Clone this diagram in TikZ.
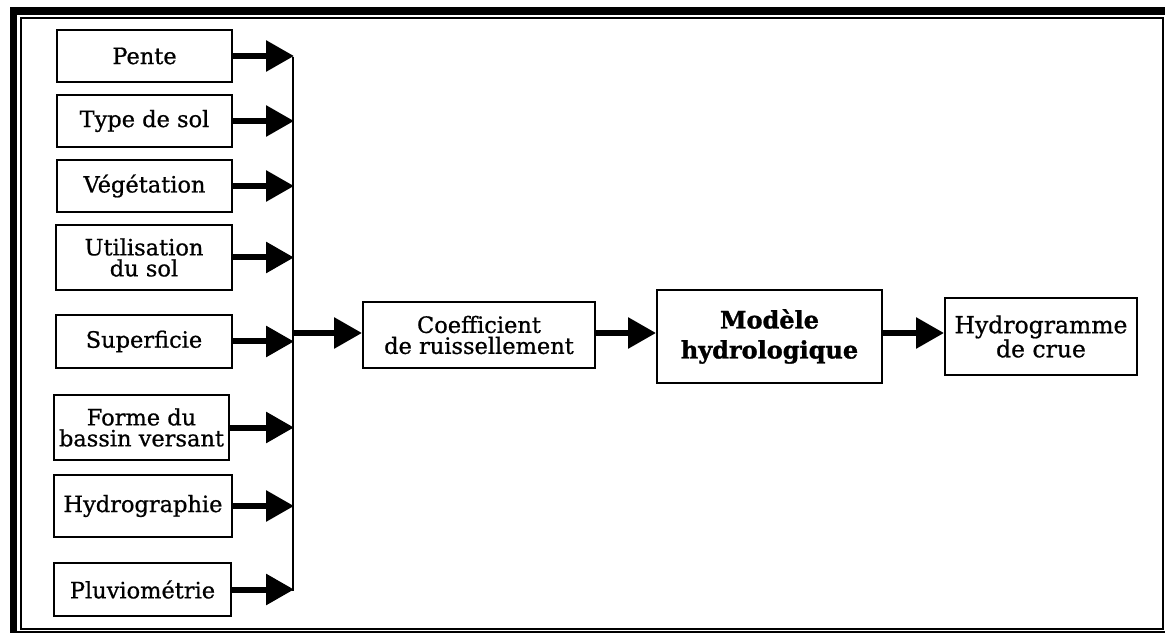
\documentclass[tikz,border=0pt]{standalone}
\usepackage{fontspec}
\setmainfont{DejaVu Serif}
\newfontfamily\factorfont[FakeBold=0.8]{DejaVu Serif}
\newfontfamily\modelfont[FakeBold=1.2]{DejaVu Serif Bold}
\usetikzlibrary{arrows.meta}
\begin{document}
\begin{tikzpicture}[x=1pt,y=-1pt,
  factor/.style={draw,line width=2pt,inner sep=0pt,align=center,
    font=\factorfont\fontsize{22.5}{21}\selectfont},
  flow/.style={line width=6pt,-{Triangle[length=28pt,width=30pt]}},
  feed/.style={line width=6pt,-{Triangle[length=28pt,width=30pt]},shorten >=-1pt},
  bus/.style={line width=2pt}]
\useasboundingbox (0,0) rectangle (1165,636);
% double frame
\draw[line width=1.5pt] (21,18) rectangle (1163,629);
\draw[line width=7pt] (13.5,632) -- (13.5,7);
\draw[line width=8pt] (10,11) -- (1165,11);
\draw[line width=2pt] (10,631.5) -- (1165,631.5);
% input factors
\node[factor,minimum width=175pt,minimum height=52pt] (pente) at (144.5,56) {Pente};
\node[factor,minimum width=175pt,minimum height=52pt] (type) at (144.5,121) {Type de sol};
\node[factor,minimum width=175pt,minimum height=52pt] (veg) at (144.5,186) {Végétation};
\node[factor,minimum width=176pt,minimum height=65pt] (util) at (144,257.5) {Utilisation\\du sol};
\node[factor,minimum width=176pt,minimum height=53pt] (sup) at (144,341.5) {Superficie};
\node[factor,minimum width=175pt,minimum height=65pt] (forme) at (141.5,427.5) {Forme du\\bassin versant};
\node[factor,minimum width=178pt,minimum height=62pt] (hydr) at (143,506) {Hydrographie};
\node[factor,minimum width=177pt,minimum height=53pt] (pluv) at (142.5,589.5) {Pluviométrie};
% collecting bus
\coordinate (busTop) at (293,57);
\coordinate (busBot) at (293,591);
\coordinate (busOut) at (293,333);
\draw[bus] (busTop) -- (busBot);
\foreach \n in {pente,type,veg,util,sup,forme,hydr,pluv}
  \draw[feed] (\n.east) -- (\n.east -| busTop);
% main chain
\node[factor,minimum width=232pt,minimum height=66pt] (coef) at (479,335) {Coefficient\\de ruissellement};
\node[factor,minimum width=225pt,minimum height=93pt,
  font=\modelfont\fontsize{24}{30}\selectfont] (mod) at (769.5,336.5) {Modèle\\hydrologique};
\node[factor,minimum width=192pt,minimum height=77pt,
  font=\factorfont\fontsize{23.5}{22}\selectfont] (crue) at (1041,336.5) {Hydrogramme\\de crue};
\draw[flow] (busOut) -- (coef.west |- busOut);
\draw[flow] (coef.east |- busOut) -- (mod.west |- busOut);
\draw[flow] (mod.east |- busOut) -- (crue.west |- busOut);
\end{tikzpicture}
\end{document}
